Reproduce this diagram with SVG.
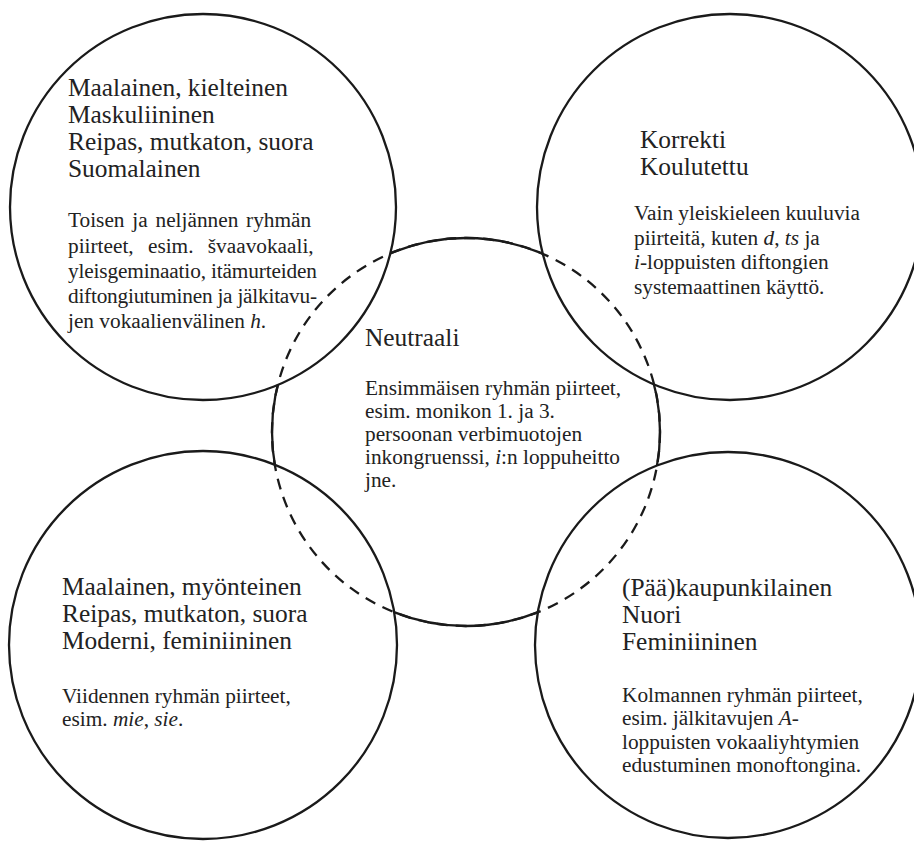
<svg xmlns="http://www.w3.org/2000/svg" width="914" height="842" viewBox="0 0 914 842">
<style>
.c{fill:none;stroke:#1a1a1a;stroke-width:2.3}
.d{fill:none;stroke:#1a1a1a;stroke-width:2.3;stroke-dasharray:11 8}
text{font-family:"Liberation Serif","Times New Roman",serif;fill:#222}
.h{font-size:25.4px}
.b{font-size:21.3px}
.i{font-style:italic}
</style>
<defs>
<mask id="outside">
<rect x="0" y="0" width="914" height="842" fill="#fff"/>
<circle cx="203" cy="207" r="193" fill="#000"/>
<circle cx="730" cy="207" r="193" fill="#000"/>
<circle cx="203" cy="645" r="194" fill="#000"/>
<circle cx="728" cy="645" r="193" fill="#000"/>
</mask>
</defs>
<rect x="0" y="0" width="914" height="842" fill="#fff"/>
<g id="neutral">
<circle class="d" cx="466" cy="432" r="194"/>
<circle class="c" cx="466" cy="432" r="194" mask="url(#outside)"/>
<text class="h" x="365" y="346">Neutraali</text>
<text class="b" x="365" y="395">Ensimmäisen ryhmän piirteet,</text>
<text class="b" x="365" y="418">esim. monikon 1. ja 3.</text>
<text class="b" x="365" y="441">persoonan verbimuotojen</text>
<text class="b" x="365" y="464">inkongruenssi, <tspan class="i">i</tspan>:n loppuheitto</text>
<text class="b" x="365" y="487">jne.</text>
</g>
<g id="maalainen-kielteinen">
<circle class="c" cx="203" cy="207" r="193"/>
<text class="h" x="68" y="96">Maalainen, kielteinen</text>
<text class="h" x="68" y="123">Maskuliininen</text>
<text class="h" x="68" y="150">Reipas, mutkaton, suora</text>
<text class="h" x="68" y="177">Suomalainen</text>
<text class="b" x="68" y="227" word-spacing="2.5">Toisen ja neljännen ryhmän</text>
<text class="b" x="68" y="253" word-spacing="9">piirteet, esim. švaavokaali,</text>
<text class="b" x="68" y="278" textLength="249" lengthAdjust="spacing">yleisgeminaatio, itämurteiden</text>
<text class="b" x="68" y="303" textLength="249" lengthAdjust="spacing">diftongiutuminen ja jälkitavu-</text>
<text class="b" x="68" y="328">jen vokaalienvälinen <tspan class="i">h</tspan>.</text>
</g>
<g id="korrekti">
<circle class="c" cx="730" cy="207" r="193"/>
<text class="h" x="640" y="148">Korrekti</text>
<text class="h" x="640" y="175">Koulutettu</text>
<text class="b" x="634" y="220">Vain yleiskieleen kuuluvia</text>
<text class="b" x="634" y="245">piirteitä, kuten <tspan class="i">d</tspan>, <tspan class="i">ts</tspan> ja</text>
<text class="b" x="634" y="269"><tspan class="i">i</tspan>-loppuisten diftongien</text>
<text class="b" x="634" y="294">systemaattinen käyttö.</text>
</g>
<g id="maalainen-myonteinen">
<circle class="c" cx="203" cy="645" r="194"/>
<text class="h" x="62" y="595">Maalainen, myönteinen</text>
<text class="h" x="62" y="622">Reipas, mutkaton, suora</text>
<text class="h" x="62" y="649">Moderni, feminiininen</text>
<text class="b" x="62" y="703">Viidennen ryhmän piirteet,</text>
<text class="b" x="62" y="726">esim. <tspan class="i">mie</tspan>, <tspan class="i">sie</tspan>.</text>
</g>
<g id="kaupunkilainen">
<circle class="c" cx="728" cy="645" r="193"/>
<text class="h" x="622" y="596">(Pää)kaupunkilainen</text>
<text class="h" x="622" y="623">Nuori</text>
<text class="h" x="622" y="650">Feminiininen</text>
<text class="b" x="622" y="702">Kolmannen ryhmän piirteet,</text>
<text class="b" x="622" y="725">esim. jälkitavujen <tspan class="i">A</tspan>-</text>
<text class="b" x="622" y="749">loppuisten vokaaliyhtymien</text>
<text class="b" x="622" y="772">edustuminen monoftongina.</text>
</g>
<g id="connectors"/>
</svg>
